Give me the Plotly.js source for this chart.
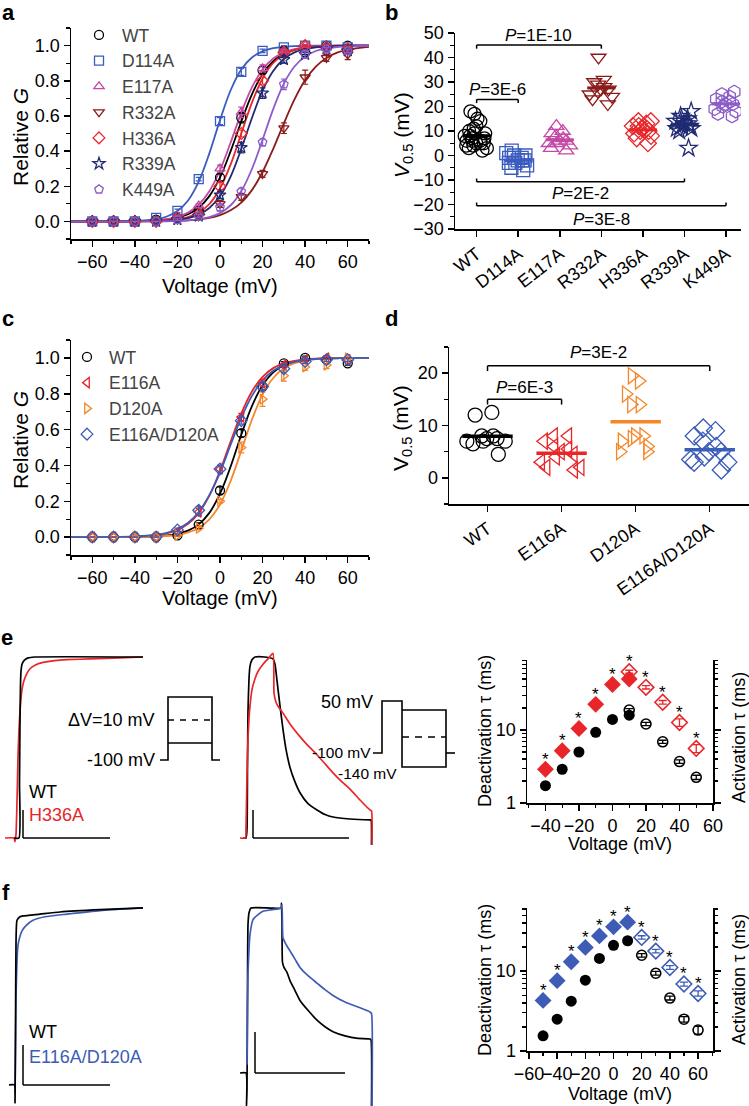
<!DOCTYPE html>
<html><head><meta charset="utf-8">
<script src="https://cdn.plot.ly/plotly-3.0.1.min.js"></script>
<style>html,body{margin:0;padding:0;background:#fff}#chart{width:749px;height:1106px}</style>
</head><body><div id="chart"></div>
<script>
const W=749,H=1106;
const px=x=>x/W, py=y=>1-y/H;
const FONT='Arial, "Liberation Sans", sans-serif';

// ---------- Panel a : G-V
const V_STEPS=[-60,-50,-40,-30,-20,-10,0,10,20,30,40,50,60];
const FIT_V=[-70,-40,-30,-25,-20,-15,-10,-5,0,5,10,15,20,25,30,35,40,45,50,55,60,70];
const A_NAMES=['WT','D114A','E117A','R332A','H336A','R339A','K449A'];
const A_COLORS=['#000000','#3a5bbf','#c448a4','#8b1a1a','#e8262a','#1f2a72','#8c5cc8'];
const A_SYMBOLS=['circle-open','square-open','triangle-up-open','triangle-down-open','diamond-open','star-open','pentagon-open'];
const A_WT=[0,0,0,0.01,0.02,0.06,0.25,0.59,0.86,0.97,0.96,1.0,1.0];
const A_D114A=[0,0,0,0.02,0.06,0.24,0.57,0.85,0.97,0.99,1.0,1.0,0.99];
const A_E117A=[0,0,0,0.01,0.03,0.09,0.30,0.62,0.87,0.97,1.0,0.99,0.98];
const A_R332A=[0,0,0,0,0.01,0.03,0.10,0.14,0.27,0.53,0.82,0.93,0.95];
const A_H336A=[0,0,0,0,0.02,0.04,0.20,0.50,0.80,0.96,1.0,0.99,0.98];
const A_R339A=[0,0,0,0,0.01,0.03,0.15,0.42,0.73,0.92,0.95,0.98,0.97];
const A_K449A=[0,0,0,0,0.01,0.03,0.08,0.17,0.45,0.78,0.95,0.98,0.97];
const A_WT_ERR=[0,0,0,0,0.005,0.01,0.02,0.03,0.02,0.01,0.01,0.005,0.005];
const A_D114A_ERR=[0,0,0,0.005,0.01,0.01,0.02,0.02,0.01,0.01,0.005,0.005,0.005];
const A_E117A_ERR=[0,0,0,0,0.005,0.01,0.02,0.03,0.02,0.01,0.005,0.005,0.01];
const A_R332A_ERR=[0,0,0,0,0,0.005,0.02,0.02,0.02,0.03,0.04,0.02,0.03];
const A_H336A_ERR=[0,0,0,0,0.005,0.01,0.02,0.02,0.02,0.01,0.005,0.005,0.01];
const A_R339A_ERR=[0,0,0,0,0.005,0.01,0.02,0.03,0.03,0.02,0.02,0.01,0.01];
const A_K449A_ERR=[0,0,0,0,0.005,0.01,0.02,0.02,0.02,0.03,0.02,0.01,0.01];
const A_WT_FIT=[0,0.001,0.005,0.011,0.021,0.041,0.078,0.144,0.25,0.40,0.568,0.723,0.838,0.911,0.953,0.976,0.988,0.994,0.997,0.998,0.999,1.0];
const A_D114A_FIT=[0,0.003,0.013,0.028,0.059,0.119,0.226,0.387,0.576,0.746,0.864,0.932,0.967,0.985,0.993,0.997,0.998,0.999,0.999,1,1,1];
const A_E117A_FIT=[0,0.002,0.007,0.013,0.026,0.050,0.095,0.172,0.291,0.449,0.618,0.762,0.864,0.927,0.962,0.980,0.990,0.995,0.997,0.999,0.999,1];
const A_R332A_FIT=[0,0,0.001,0.002,0.004,0.006,0.011,0.020,0.036,0.063,0.107,0.178,0.281,0.413,0.558,0.694,0.804,0.881,0.930,0.960,0.977,0.993];
const A_H336A_FIT=[0,0.001,0.003,0.006,0.012,0.025,0.050,0.099,0.187,0.324,0.5,0.676,0.813,0.901,0.950,0.975,0.988,0.994,0.997,0.999,0.999,1];
const A_R339A_FIT=[0,0.001,0.002,0.005,0.010,0.019,0.039,0.076,0.144,0.255,0.412,0.588,0.745,0.856,0.924,0.961,0.981,0.990,0.995,0.998,0.999,1];
const A_K449A_FIT=[0,0,0.001,0.001,0.003,0.006,0.012,0.024,0.047,0.092,0.172,0.298,0.464,0.639,0.784,0.881,0.938,0.969,0.984,0.992,0.996,0.999];

// ---------- Panel b : V0.5 scatter
const B_SYMBOLS=['circle-open','square-open','triangle-up-open','triangle-down-open','diamond-open','star-open','hexagon-open'];
const B_WT=[18,17,15,14,12,11,10,9,9,8,8,7,7,6,6,6,5,5,5,4,4,3,3,2];
const B_D114A=[2,1,0,-1,-1,-2,-2,-2,-3,-3,-4,-5,-6,0,-1];
const B_E117A=[12,10,9,8,7,6,6,5,5,4,3,2];
const B_R332A=[40,31,29,28,27,27,26,25,24,23,21,30];
const B_H336A=[14,13,12,12,11,10,10,9,8,7,5,14,11];
const B_R339A=[18,16,15,14,13,13,12,12,11,11,10,3,14];
const B_K449A=[26,25,24,23,22,21,21,20,19,18,17,16,22];
const B_PVALS=[{a:0,b:3,y:45.1,end:43.6,ty:49.0,t:'1E-10'},{a:0,b:1,y:22.9,end:21.4,ty:27.0,t:'3E-6'},
               {a:0,b:5,y:-10.7,end:-9.4,ty:-15.6,t:'2E-2'},{a:0,b:6,y:-20.5,end:-19.2,ty:-26.0,t:'3E-8'}];

// ---------- Panel c : G-V
const C_NAMES=['WT','E116A','D120A','E116A/D120A'];
const C_COLORS=['#000000','#e8262a','#f5872a','#3b5cb8'];
const C_SYMBOLS=['circle-open','triangle-left-open','triangle-right-open','diamond-open'];
const C_WT=[0,0,0,0,0.01,0.07,0.26,0.58,0.84,0.97,1.0,0.99,0.97];
const C_E116A=[0,0,0,0,0.03,0.14,0.38,0.67,0.86,0.96,0.99,1.0,0.99];
const C_D120A=[0,0,0,0,0.01,0.05,0.20,0.50,0.77,0.90,0.95,0.96,1.0];
const C_DBL=[0,0,0,0,0.04,0.15,0.38,0.65,0.84,0.94,0.98,0.99,0.99];
const C_WT_ERR=[0,0,0,0,0.005,0.01,0.02,0.02,0.02,0.01,0.01,0.01,0.01];
const C_E116A_ERR=[0,0,0,0,0.01,0.02,0.02,0.02,0.02,0.01,0.01,0.01,0.01];
const C_D120A_ERR=[0,0,0,0,0.005,0.01,0.01,0.03,0.04,0.03,0.02,0.02,0.01];
const C_DBL_ERR=[0,0,0,0,0.01,0.02,0.02,0.02,0.02,0.02,0.01,0.01,0.01];
const C_WT_FIT=[0,0.001,0.004,0.009,0.018,0.036,0.071,0.135,0.242,0.394,0.571,0.731,0.847,0.919,0.959,0.979,0.990,0.995,0.998,0.999,0.999,1];
const C_E116A_FIT=[0,0.003,0.011,0.021,0.039,0.074,0.134,0.231,0.37,0.533,0.69,0.813,0.894,0.943,0.970,0.984,0.992,0.996,0.998,0.999,0.999,1];
const C_D120A_FIT=[0,0.001,0.003,0.006,0.013,0.026,0.051,0.099,0.182,0.313,0.482,0.655,0.795,0.888,0.942,0.971,0.985,0.993,0.996,0.998,0.999,1];
const C_DBL_FIT=[0,0.004,0.013,0.024,0.045,0.080,0.140,0.234,0.36,0.516,0.665,0.788,0.874,0.928,0.960,0.978,0.988,0.994,0.997,0.998,0.999,1];

// ---------- Panel d : V0.5 scatter
const D_WT=[12.5,12,8,8,7.5,7,7,7,6.5,4.5,7.5];
const D_E116A=[8,8,7,6,5.5,5,4,3,2,2,1.5,4.5];
const D_D120A=[19.5,18.5,16,14,14,8,8,7.5,7,6,5,5];
const D_DBL=[9.5,9,8,7,6,5,5,4,3.5,3,1.5,3];
const D_PVALS=[{a:0,b:3,y:21.4,end:20.4,ty:23.9,t:'3E-2'},{a:0,b:1,y:15.0,end:14.0,ty:17.2,t:'6E-3'}];

// ---------- Panel e : current traces (time in arbitrary ms, normalised current)
const E1_T_WT=[14,19,19.5,20,20.5,21,22,24,28,35,143];
const E1_I_WT=[0,0,0.3,0.65,0.85,0.92,0.96,0.98,0.995,1.0,1.0];
const E1_T_MUT=[5,14,15,16,17,18,19,20,21,22,24,27,30,35,43,55,67,90,120,143];
const E1_I_MUT=[0,0,-0.02,0.02,0.2,0.45,0.6,0.7,0.77,0.82,0.87,0.91,0.935,0.955,0.97,0.98,0.985,0.99,0.995,1.0];
const E2_T_WT=[243,246,247,247.5,248,249,250,252,255,265,273,275,277,280,283,286,290,295,300,308,317,325,333,350,370,371,371.5];
const E2_I_WT=[0,0,0.05,0.4,0.7,0.88,0.95,0.985,1.0,1.0,0.99,0.96,0.87,0.73,0.60,0.49,0.39,0.31,0.25,0.19,0.155,0.13,0.116,0.105,0.10,0.10,-0.04];
const E2_T_MUT=[240,245.5,246,247,248,249,250,252,255,258,263,268,273,274,276,279,283,290,300,308,317,325,333,342,350,360,370,371.5,372];
const E2_I_MUT=[0,0,0.05,0.35,0.55,0.66,0.73,0.82,0.88,0.92,0.96,0.99,1.02,0.8,0.75,0.72,0.69,0.63,0.56,0.51,0.46,0.41,0.36,0.31,0.27,0.21,0.155,0.15,-0.04];
const E_V_DEACT=[-40,-30,-20,-10,0,10];
const E_WT_DEACT=[1.73,2.9,5.0,9.3,14,16];
const E_H336A_DEACT=[2.9,5.2,10.5,22.5,42,50];
const E_V_ACT=[10,20,30,40,50];
const E_WT_ACT=[18.8,12.1,6.9,3.7,2.25];
const E_WT_ACT_ERR=[0.9,0.6,0.35,0.2,0.15];
const E_H336A_ACT=[63,38.5,24,12.7,5.6];
const E_H336A_ACT_ERR=[3,2,1.4,1.5,0.7];

// ---------- Panel f
const F1_T_WT=[9,14.5,15,15.5,16,17,20,23,40,60,100,143];
const F1_I_WT=[0,0,-0.1,0.3,0.8,0.93,0.95,0.955,0.965,0.977,0.99,1.0];
const F1_T_MUT=[15,15.5,16,17,18,20,22,26,33,45,67,100,143];
const F1_I_MUT=[-0.05,0.2,0.5,0.7,0.79,0.84,0.87,0.9,0.93,0.95,0.965,0.985,1.0];
const F2_T_WT=[240,246,246.5,247,247.5,248,249,251,270,281,281.5,282,282.5,284,287,290,295,300,308,317,325,333,345,358,370,371,371.5];
const F2_I_WT=[0,0,-0.2,-0.1,0.5,0.9,0.97,1.0,1.0,1.0,1.03,0.9,0.67,0.64,0.61,0.56,0.50,0.44,0.38,0.32,0.28,0.25,0.225,0.21,0.206,0.2,-0.2];
const F2_T_MUT=[247,247.5,248,249,250,253,258,263,272,281,282,283,286,290,295,300,308,317,325,333,345,358,370,371.5,372];
const F2_I_MUT=[0.05,0.4,0.6,0.75,0.84,0.93,0.96,0.98,0.99,1.0,1.02,0.82,0.78,0.74,0.69,0.64,0.59,0.545,0.505,0.47,0.43,0.40,0.37,0.36,-0.2];
const F_V_DEACT=[-50,-40,-30,-20,-10,0,10];
const F_WT_DEACT=[1.55,2.5,4.2,7.7,14.4,21,24];
const F_DBL_DEACT=[4.3,7.6,13.1,19.8,27.6,35.8,41];
const F_V_ACT=[20,30,40,50,60];
const F_WT_ACT=[15.8,9.4,4.6,2.5,1.83];
const F_WT_ACT_ERR=[0.8,0.5,0.25,0.2,0.2];
const F_DBL_ACT=[26.4,17.8,11.1,6.9,5.25];
const F_DBL_ACT_ERR=[1.3,0.9,0.6,0.4,0.4];

// ================= build =================
const traces=[], shapes=[], anns=[];
const A_DATA=[A_WT,A_D114A,A_E117A,A_R332A,A_H336A,A_R339A,A_K449A];
const A_ERR=[A_WT_ERR,A_D114A_ERR,A_E117A_ERR,A_R332A_ERR,A_H336A_ERR,A_R339A_ERR,A_K449A_ERR];
const A_FIT=[A_WT_FIT,A_D114A_FIT,A_E117A_FIT,A_R332A_FIT,A_H336A_FIT,A_R339A_FIT,A_K449A_FIT];
A_NAMES.forEach((n,i)=>traces.push({x:FIT_V,y:A_FIT[i],xaxis:'x',yaxis:'y',mode:'lines',line:{color:A_COLORS[i],width:1.8,shape:'spline',smoothing:1},showlegend:false,hoverinfo:'skip'}));
A_NAMES.forEach((n,i)=>traces.push({x:V_STEPS,y:A_DATA[i],name:n,xaxis:'x',yaxis:'y',mode:'markers',legend:'legend',
  marker:{symbol:A_SYMBOLS[i],size:9,color:A_COLORS[i],line:{width:1.3,color:A_COLORS[i]}},
  error_y:{type:'data',array:A_ERR[i],color:A_COLORS[i],thickness:1.2,width:3}}));

const C_DATA=[C_WT,C_E116A,C_D120A,C_DBL];
const C_ERR=[C_WT_ERR,C_E116A_ERR,C_D120A_ERR,C_DBL_ERR];
const C_FIT=[C_WT_FIT,C_E116A_FIT,C_D120A_FIT,C_DBL_FIT];
C_NAMES.forEach((n,i)=>traces.push({x:FIT_V,y:C_FIT[i],xaxis:'x3',yaxis:'y3',mode:'lines',line:{color:C_COLORS[i],width:1.8,shape:'spline',smoothing:1},showlegend:false,hoverinfo:'skip'}));
C_NAMES.forEach((n,i)=>traces.push({x:V_STEPS,y:C_DATA[i],name:n,xaxis:'x3',yaxis:'y3',mode:'markers',legend:'legend2',
  marker:{symbol:C_SYMBOLS[i],size:9,color:C_COLORS[i],line:{width:1.3,color:C_COLORS[i]}},
  error_y:{type:'data',array:C_ERR[i],color:C_COLORS[i],thickness:1.2,width:3}}));

function dots(vals,cat,color,symbol,xa,ya,size){
  return {type:'box',x:vals.map(()=>cat),y:vals,xaxis:xa,yaxis:ya,boxpoints:'all',jitter:1,pointpos:0,width:0.66,
    fillcolor:'rgba(0,0,0,0)',line:{width:0,color:color},whiskerwidth:0,
    marker:{symbol:symbol,size:size,color:color,line:{width:1.3,color:color}},showlegend:false,hoverinfo:'skip'};
}
const mean=a=>a.reduce((s,v)=>s+v,0)/a.length;
const B_DATA=[B_WT,B_D114A,B_E117A,B_R332A,B_H336A,B_R339A,B_K449A];
B_DATA.forEach((d,i)=>{
  traces.push(dots(d,A_NAMES[i],A_COLORS[i],B_SYMBOLS[i],'x2','y2',13));
  shapes.push({type:'line',xref:'x2',yref:'y2',x0:i-0.34,x1:i+0.34,y0:mean(d),y1:mean(d),line:{color:A_COLORS[i],width:3}});
});
const D_DATA=[D_WT,D_E116A,D_D120A,D_DBL];
D_DATA.forEach((d,i)=>{
  traces.push(dots(d,C_NAMES[i],C_COLORS[i],C_SYMBOLS[i],'x4','y4',14));
  shapes.push({type:'line',xref:'x4',yref:'y4',x0:i-0.34,x1:i+0.34,y0:mean(d),y1:mean(d),line:{color:C_COLORS[i],width:3.5}});
});
function brackets(list,xr,yr){
  list.forEach(p=>{
    const L={color:'#000',width:1.5};
    shapes.push({type:'line',xref:xr,yref:yr,x0:p.a,x1:p.b,y0:p.y,y1:p.y,line:L});
    shapes.push({type:'line',xref:xr,yref:yr,x0:p.a,x1:p.a,y0:p.y,y1:p.end,line:L});
    shapes.push({type:'line',xref:xr,yref:yr,x0:p.b,x1:p.b,y0:p.y,y1:p.end,line:L});
    anns.push({xref:xr,yref:yr,x:(p.a+p.b)/2,y:p.ty,text:'<i>P</i>='+p.t,showarrow:false,font:{family:FONT,size:17,color:'#000'}});
  });
}
brackets(B_PVALS,'x2','y2');
brackets(D_PVALS,'x4','y4');

// current traces
const ln=(x,y,xa,ya,c)=>({x:x,y:y,xaxis:xa,yaxis:ya,mode:'lines',line:{color:c,width:1.7,shape:'spline',smoothing:0.5},showlegend:false,hoverinfo:'skip'});
const RED='#e8262a', BLUE='#3d5cb5';
traces.push(ln(E1_T_MUT,E1_I_MUT,'x5','y5',RED), ln(E1_T_WT,E1_I_WT,'x5','y5','#000'));
traces.push(ln(E2_T_WT,E2_I_WT,'x6','y6','#000'), ln(E2_T_MUT,E2_I_MUT,'x6','y6',RED));
traces.push(ln(F1_T_MUT,F1_I_MUT,'x9','y9',BLUE), ln(F1_T_WT,F1_I_WT,'x9','y9','#000'));
traces.push(ln(F2_T_WT,F2_I_WT,'x10','y10','#000'), ln(F2_T_MUT,F2_I_MUT,'x10','y10',BLUE));

// scale bars (axes units)
function scalebar(xa,ya,x0,x1,h){
  const L={color:'#000',width:1.5};
  shapes.push({type:'line',xref:xa,yref:ya,x0:x0,x1:x0,y0:0,y1:h,line:L});
  shapes.push({type:'line',xref:xa,yref:ya,x0:x0,x1:x1,y0:0,y1:0,line:L});
}
scalebar('x5','y5',23,110,0.155);
scalebar('x6','y6',253,349,0.155);
scalebar('x9','y9',23,110,0.226);
scalebar('x10','y10',255,345,0.248);

// tau plots
function tauTraces(xa,ya,vd,wd,md,va,wa,wae,ma,mae,mc){
  traces.push({x:vd,y:wd,xaxis:xa,yaxis:ya,mode:'markers',marker:{symbol:'circle',size:11,color:'#000'},showlegend:false,hoverinfo:'skip'});
  traces.push({x:va,y:wa,xaxis:xa,yaxis:ya,mode:'markers',marker:{symbol:'circle-open',size:10,color:'#000',line:{width:1.6,color:'#000'}},
    error_y:{type:'data',array:wae,color:'#000',thickness:1.3,width:4},showlegend:false,hoverinfo:'skip'});
  traces.push({x:vd,y:md,xaxis:xa,yaxis:ya,mode:'markers',marker:{symbol:'diamond',size:13,color:mc},showlegend:false,hoverinfo:'skip'});
  traces.push({x:va,y:ma,xaxis:xa,yaxis:ya,mode:'markers',marker:{symbol:'diamond-open',size:12,color:mc,line:{width:1.6,color:mc}},
    error_y:{type:'data',array:mae,color:mc,thickness:1.3,width:4},showlegend:false,hoverinfo:'skip'});
  const vs=[...new Set([...vd,...va])];
  vs.forEach(v=>{
    const cand=[];
    vd.forEach((x,i)=>{if(x===v)cand.push(md[i]);});
    va.forEach((x,i)=>{if(x===v)cand.push(ma[i]);});
    const m=Math.max(...cand);
    anns.push({xref:xa,yref:ya,x:v,y:Math.log10(m),yshift:10,text:'*',showarrow:false,font:{family:FONT,size:17,color:'#000'}});
  });
}
tauTraces('x7','y7',E_V_DEACT,E_WT_DEACT,E_H336A_DEACT,E_V_ACT,E_WT_ACT,E_WT_ACT_ERR,E_H336A_ACT,E_H336A_ACT_ERR,RED);
tauTraces('x11','y11',F_V_DEACT,F_WT_DEACT,F_DBL_DEACT,F_V_ACT,F_WT_ACT,F_WT_ACT_ERR,F_DBL_ACT,F_DBL_ACT_ERR,BLUE);

// protocol schematics (paper coords built from pixel positions)
const P=(x,y)=>px(x).toFixed(5)+','+py(y).toFixed(5);
function path(pts){return 'M'+pts.map(p=>P(p[0],p[1])).join(' L');}
const PL={color:'#000',width:1.6};
shapes.push({type:'path',xref:'paper',yref:'paper',path:path([[160,760],[168,760],[168,697],[212,697],[212,760],[220,760]]),line:PL});
shapes.push({type:'path',xref:'paper',yref:'paper',path:path([[168,743],[212,743]]),line:PL});
shapes.push({type:'path',xref:'paper',yref:'paper',path:path([[168,720],[212,720]]),line:{color:'#000',width:1.6,dash:'6px,6px'}});
shapes.push({type:'path',xref:'paper',yref:'paper',path:path([[373,753],[382,753],[382,701],[402,701],[402,767],[446,767],[446,710],[402,710]]),line:PL});
shapes.push({type:'path',xref:'paper',yref:'paper',path:path([[446,753],[455,753]]),line:PL});
shapes.push({type:'path',xref:'paper',yref:'paper',path:path([[402,737],[446,737]]),line:{color:'#000',width:1.6,dash:'7px,6px'}});

// text annotations (pixel placed)
function T(text,x,y,o){
  o=o||{};
  anns.push({xref:'paper',yref:'paper',x:px(x),y:py(y),text:text,showarrow:false,
    xanchor:o.xa||'center',yanchor:'middle',textangle:o.rot||0,
    font:{family:FONT,size:o.size||18,color:o.color||'#000'}});
}
[['a',8,12],['b',392,12],['c',8,318],['d',391,318],['e',7,637],['f',6,892]].forEach(l=>T('<b>'+l[0]+'</b>',l[1],l[2],{size:22}));
T('Relative <i>G</i>',20,137,{rot:-90,size:21});
T('Voltage (mV)',220,286,{size:20});
T('<i>V</i><sub>0.5</sub> (mV)',403,135,{rot:-90,size:21});
T('Relative <i>G</i>',20,440,{rot:-90,size:21});
T('Voltage (mV)',220,598,{size:20});
T('V<sub>0.5</sub> (mV)',402,428,{rot:-90,size:21});
T('ΔV=10 mV',157,720,{xa:'right'});
T('-100 mV',157,760,{xa:'right'});
T('50 mV',347,702,{});
T('-100 mV',373,752,{xa:'right',size:15.5});
T('-140 mV',399,773,{xa:'right',size:15.5});
T('WT',27,792,{xa:'left'});
T('H336A',27,815,{xa:'left',color:RED});
T('WT',27,1032,{xa:'left'});
T('E116A/D120A',27,1057,{xa:'left',color:BLUE});
T('Deactivation τ (ms)',485,731,{rot:-90,size:18});
T('Activation τ (ms)',739,738,{rot:-90,size:18});
T('Voltage (mV)',620,844,{size:18});
T('Deactivation τ (ms)',485,980,{rot:-90,size:18});
T('Activation τ (ms)',739,980,{rot:-90,size:18});
T('Voltage (mV)',620,1094,{size:18});

// axes
function ax(extra){
  return Object.assign({showline:true,linecolor:'#000',linewidth:1.5,ticks:'outside',ticklen:6,tickwidth:1.5,tickcolor:'#000',
    showgrid:false,zeroline:false,fixedrange:true,tickfont:{family:FONT,size:18,color:'#000'}},extra);
}
const MIN=(d)=>({dtick:d,ticks:'outside',ticklen:3.5,tickwidth:1.2,tickcolor:'#000',showgrid:false});
const LOGMIN={dtick:'D1',ticks:'outside',ticklen:3.5,tickwidth:1.2,tickcolor:'#000'};
const hid=(extra)=>Object.assign({visible:false,fixedrange:true},extra);
const layout={
  width:W,height:H,margin:{l:0,r:0,t:0,b:0},paper_bgcolor:'#fff',plot_bgcolor:'rgba(0,0,0,0)',
  showlegend:true,hovermode:false,
  legend:{x:px(76),y:py(17),xanchor:'left',yanchor:'top',bgcolor:'rgba(0,0,0,0)',font:{family:FONT,size:17.5},tracegroupgap:0,itemwidth:36},
  legend2:{x:px(65),y:py(339),xanchor:'left',yanchor:'top',bgcolor:'rgba(0,0,0,0)',font:{family:FONT,size:17.5},tracegroupgap:0,itemwidth:34},
  xaxis:ax({domain:[px(71),px(369)],range:[-70,70],dtick:20,tick0:0,tickangle:0,minor:MIN(10),anchor:'y'}),
  yaxis:ax({domain:[py(239),py(28)],range:[-0.1,1.1],dtick:0.2,tick0:0,tickformat:'.1f',minor:MIN(0.1),anchor:'x'}),
  xaxis2:ax({domain:[px(455),px(741)],type:'category',categoryorder:'array',categoryarray:A_NAMES,range:[-0.52,6.36],tickangle:-38,anchor:'y2'}),
  yaxis2:ax({domain:[py(229),py(33)],range:[-30,50],dtick:10,tick0:0,minor:MIN(5),anchor:'x2'}),
  xaxis3:ax({domain:[px(71),px(369)],range:[-70,70],dtick:20,tick0:0,tickangle:0,minor:MIN(10),anchor:'y3'}),
  yaxis3:ax({domain:[py(555),py(340)],range:[-0.1,1.1],dtick:0.2,tick0:0,tickformat:'.1f',minor:MIN(0.1),anchor:'x3'}),
  xaxis4:ax({domain:[px(449),1],type:'category',categoryorder:'array',categoryarray:C_NAMES,range:[-0.52,3.53],tickangle:-35,anchor:'y4'}),
  yaxis4:ax({domain:[py(504),py(347)],range:[-5,25],dtick:10,tick0:0,minor:MIN(5),anchor:'x4'}),
  xaxis5:hid({domain:[0,px(150)],range:[0,150],anchor:'y5'}),
  yaxis5:hid({domain:[py(845),py(650)],range:[-0.0387,1.0387],anchor:'x5'}),
  xaxis6:hid({domain:[px(230),px(380)],range:[230,380],anchor:'y6'}),
  yaxis6:hid({domain:[py(845),py(650)],range:[-0.0387,1.0387],anchor:'x6'}),
  xaxis7:ax({domain:[px(527),px(713)],range:[-51,60],dtick:20,tick0:0,tickangle:0,minor:MIN(10),anchor:'y7'}),
  yaxis7:ax({domain:[py(803),py(660)],type:'log',range:[0,1.96],dtick:1,minor:LOGMIN,anchor:'x7'}),
  yaxis8:ax({domain:[py(803),py(660)],type:'log',range:[0,1.96],dtick:1,overlaying:'y7',side:'right',anchor:'x7',showticklabels:false,minor:LOGMIN}),
  xaxis9:hid({domain:[0,px(150)],range:[0,150],anchor:'y9'}),
  yaxis9:hid({domain:[0,py(895)],range:[-0.119,1.073],anchor:'x9'}),
  xaxis10:hid({domain:[px(230),px(380)],range:[230,380],anchor:'y10'}),
  yaxis10:hid({domain:[0,py(895)],range:[-0.2,1.079],anchor:'x10'}),
  xaxis11:ax({domain:[px(527),px(713)],range:[-61.4,70.6],dtick:20,tick0:0,tickangle:0,minor:MIN(10),anchor:'y11'}),
  yaxis11:ax({domain:[py(1051),py(908)],type:'log',range:[0,1.79],dtick:1,minor:LOGMIN,anchor:'x11'}),
  yaxis12:ax({domain:[py(1051),py(908)],type:'log',range:[0,1.79],dtick:1,overlaying:'y11',side:'right',anchor:'x11',showticklabels:false,minor:LOGMIN}),
  shapes:shapes,annotations:anns
};
// invisible points so the right-hand overlay axes are drawn
traces.push({x:[0],y:[1],xaxis:'x7',yaxis:'y8',mode:'markers',marker:{opacity:0},showlegend:false,hoverinfo:'skip'});
traces.push({x:[0],y:[1],xaxis:'x11',yaxis:'y12',mode:'markers',marker:{opacity:0},showlegend:false,hoverinfo:'skip'});
Plotly.newPlot('chart',traces,layout,{staticPlot:true,displayModeBar:false});
</script></body></html>
